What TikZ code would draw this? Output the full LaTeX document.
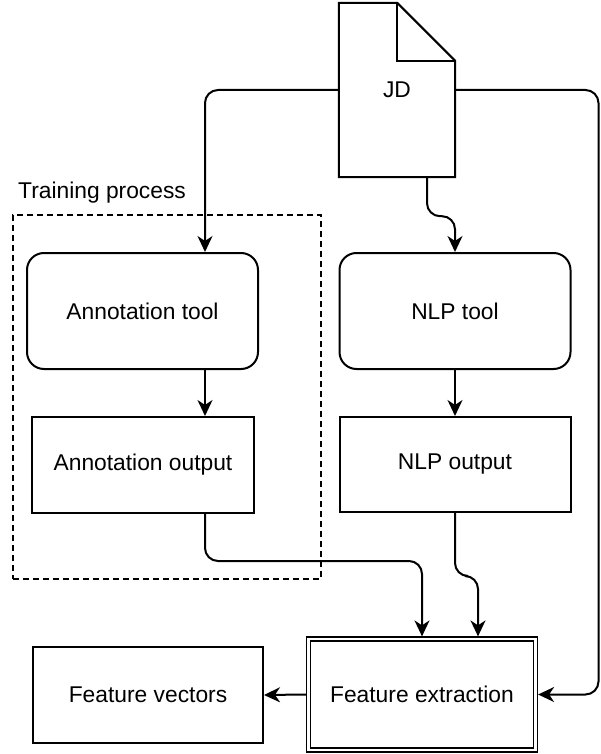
\documentclass[tikz,border=0pt]{standalone}
\usepackage{fontspec}
\setmainfont{Liberation Sans}
\usetikzlibrary{arrows.meta}
\tikzset{
  every node/.style={font=\fontsize{22.8}{27}\selectfont},
  box/.style={draw, line width=2pt, inner sep=0pt, align=center},
  rbox/.style={box, rounded corners=17pt},
  dbox/.style={draw, line width=1.4pt, double, double distance=2.4pt, inner sep=0pt, outer sep=2.6pt, align=center},
  conn/.style={line width=2pt, rounded corners=13pt, -{Stealth[length=16pt,width=15pt,inset=5pt]}},
  trainbox/.style={draw, line width=1.7pt, dash pattern=on 6pt off 4pt, inner sep=0pt},
}
\begin{document}
\begin{tikzpicture}[x=1pt,y=-1pt]
\useasboundingbox (0,0) rectangle (600,754);
% JD document
\node[inner sep=0pt, minimum width=116pt, minimum height=174pt] (jd) at (397,90) {JD};
\draw[line width=2pt, line join=miter]
  (jd.north west) -- ([xshift=-58pt]jd.north east) -- ([yshift=-58pt]jd.north east)
  -- (jd.south east) -- (jd.south west) -- cycle;
\draw[line width=2pt]
  ([xshift=-58pt]jd.north east) -- ([xshift=-58pt,yshift=-58pt]jd.north east) -- ([yshift=-58pt]jd.north east);
% training process region
\node[trainbox, minimum width=308pt, minimum height=364pt] (train) at (167,397) {};
\node[anchor=west, inner sep=0pt] (trainlbl) at (18,193) {Training process};
% boxes
\node[rbox, minimum width=231pt, minimum height=116pt] (anntool) at (142.5,311) {Annotation tool};
\node[box, minimum width=222pt, minimum height=96pt] (annout) at (143,465) {Annotation output};
\node[rbox, minimum width=231pt, minimum height=116pt] (nlptool) at (455,311) {NLP tool};
\node[box, minimum width=231pt, minimum height=95pt] (nlpout) at (455,464.5) {NLP output};
\node[dbox, minimum width=227pt, minimum height=111pt] (fe) at (422,694.5) {Feature extraction};
\node[box, minimum width=230pt, minimum height=96pt] (fv) at (148,695) {Feature vectors};
\coordinate (rc) at (598.5,90);
% connectors
\draw[conn] (jd.west) -| ([xshift=62.5pt]anntool.north);
\draw[conn] (jd.east) -- (rc) |- (fe.east);
\draw[conn] ([xshift=30pt]jd.south) -- ++(0,39) -| (nlptool.north);
\draw[conn] ([xshift=62.5pt]anntool.south) -- ([xshift=62pt]annout.north);
\draw[conn] (nlptool.south) -- (nlpout.north);
\draw[conn] ([xshift=62pt]annout.south) -- ++(0,47) -| (fe.north);
\draw[conn] (nlpout.south) -- ++(0,63) -| ([xshift=56pt]fe.north);
\draw[conn] (fe.west) -- (fv.east);
\end{tikzpicture}
\end{document}
